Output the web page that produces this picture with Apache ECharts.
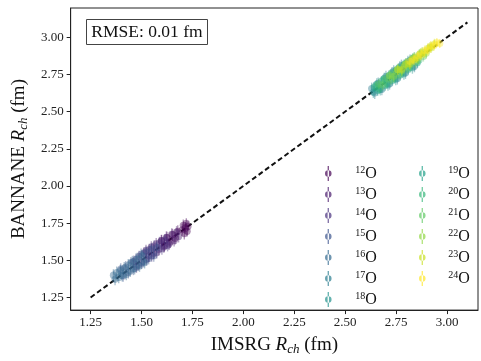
<!DOCTYPE html>
<html>
<head>
<meta charset="utf-8">
<script src="https://cdn.jsdelivr.net/npm/echarts@6/dist/echarts.min.js"></script>
<style>html,body{margin:0;padding:0;background:#fff}#c{width:481px;height:361px}</style>
</head>
<body>
<div id="c"></div>
<script>
// ---- data: [IMSRG Rch, BANNANE Rch, error] ----
const isotopes = ['12O','13O','14O','15O','16O','17O','18O','19O','20O','21O','22O','23O','24O'];
const colors = ['#440154','#481a6c','#472f7d','#3b528b','#31688e','#287c8e','#21918c','#1fa088','#35b779','#5ec962','#90d743','#c8e020','#fde725'];
const o12 = [[1.598,1.630,0.04],[1.612,1.598,0.04],[1.625,1.652,0.04],[1.640,1.622,0.04],[1.652,1.672,0.04],[1.665,1.648,0.04],[1.678,1.695,0.04],[1.700,1.705,0.04],[1.705,1.735,0.04],[1.710,1.680,0.04],[1.716,1.718,0.04],[1.720,1.748,0.035],[1.724,1.695,0.035],[1.728,1.728,0.035]];
const o13 = [[1.522,1.565,0.04],[1.535,1.530,0.04],[1.548,1.588,0.04],[1.560,1.548,0.04],[1.572,1.610,0.04],[1.585,1.572,0.04],[1.598,1.632,0.04],[1.610,1.590,0.04],[1.622,1.655,0.04],[1.635,1.610,0.04],[1.648,1.675,0.04],[1.660,1.632,0.04],[1.672,1.690,0.04],[1.682,1.660,0.04]];
const o14 = [[1.462,1.492,0.04],[1.475,1.455,0.04],[1.488,1.525,0.04],[1.500,1.482,0.04],[1.512,1.548,0.04],[1.525,1.505,0.04],[1.538,1.572,0.04],[1.550,1.530,0.04],[1.562,1.595,0.04],[1.575,1.552,0.04],[1.588,1.618,0.04],[1.600,1.578,0.04],[1.615,1.635,0.04],[1.628,1.600,0.04]];
const o15 = [[1.398,1.440,0.04],[1.410,1.395,0.04],[1.422,1.455,0.04],[1.435,1.418,0.04],[1.448,1.482,0.04],[1.460,1.440,0.04],[1.472,1.505,0.04],[1.485,1.468,0.04],[1.498,1.540,0.04],[1.510,1.492,0.04],[1.522,1.555,0.04],[1.535,1.512,0.04],[1.548,1.575,0.04],[1.560,1.530,0.04],[1.575,1.585,0.04]];
const o16 = [[1.362,1.400,0.04],[1.370,1.372,0.04],[1.378,1.418,0.04],[1.388,1.385,0.04],[1.396,1.430,0.04],[1.405,1.398,0.04],[1.415,1.448,0.04],[1.425,1.405,0.04],[1.435,1.468,0.04],[1.445,1.428,0.04],[1.455,1.490,0.04],[1.466,1.445,0.04],[1.478,1.510,0.04],[1.490,1.462,0.04],[1.502,1.530,0.04],[1.515,1.485,0.04]];
const o17 = [[2.630,2.655,0.04],[2.645,2.625,0.04],[2.662,2.690,0.04],[2.680,2.650,0.04],[2.700,2.735,0.04],[2.718,2.688,0.04],[2.738,2.772,0.04],[2.756,2.722,0.04],[2.776,2.810,0.04],[2.796,2.760,0.04],[2.818,2.845,0.04],[2.840,2.805,0.04]];
const o18 = [[2.638,2.632,0.04],[2.655,2.685,0.04],[2.672,2.648,0.04],[2.692,2.722,0.04],[2.710,2.680,0.04],[2.730,2.760,0.04],[2.748,2.718,0.04],[2.768,2.798,0.04],[2.788,2.755,0.04],[2.808,2.835,0.04],[2.830,2.795,0.04]];
const o19 = [[2.642,2.665,0.035],[2.660,2.642,0.035],[2.678,2.705,0.035],[2.696,2.675,0.035],[2.714,2.742,0.035],[2.732,2.710,0.035],[2.752,2.780,0.035],[2.770,2.745,0.035],[2.790,2.818,0.035],[2.810,2.785,0.035],[2.832,2.858,0.035],[2.855,2.830,0.035]];
const o20 = [[2.650,2.672,0.035],[2.668,2.655,0.035],[2.686,2.712,0.035],[2.704,2.690,0.035],[2.722,2.748,0.035],[2.742,2.725,0.035],[2.760,2.788,0.035],[2.778,2.762,0.035],[2.798,2.825,0.035],[2.818,2.800,0.035],[2.840,2.865,0.035],[2.862,2.845,0.035]];
const o21 = [[2.665,2.685,0.035],[2.684,2.680,0.035],[2.704,2.725,0.035],[2.724,2.715,0.035],[2.744,2.768,0.035],[2.764,2.752,0.035],[2.784,2.808,0.035],[2.804,2.792,0.035],[2.824,2.848,0.035],[2.844,2.832,0.035],[2.864,2.885,0.035],[2.884,2.872,0.035]];
const o22 = [[2.718,2.742,0.035],[2.738,2.738,0.035],[2.758,2.782,0.035],[2.778,2.775,0.035],[2.798,2.822,0.035],[2.818,2.815,0.035],[2.838,2.862,0.035],[2.858,2.855,0.035],[2.878,2.900,0.035],[2.898,2.892,0.035],[2.916,2.932,0.035]];
const o23 = [[2.758,2.782,0.035],[2.778,2.785,0.035],[2.798,2.818,0.035],[2.816,2.822,0.035],[2.834,2.855,0.035],[2.852,2.860,0.035],[2.870,2.892,0.035],[2.888,2.895,0.035],[2.906,2.925,0.035],[2.922,2.930,0.035],[2.938,2.955,0.035]];
const o24 = [[2.818,2.838,0.035],[2.838,2.848,0.035],[2.856,2.875,0.035],[2.873,2.882,0.035],[2.890,2.910,0.035],[2.906,2.915,0.035],[2.920,2.940,0.035],[2.936,2.945,0.035],[2.950,2.965,0.03],[2.964,2.958,0.03]];
const seriesData = [o12,o13,o14,o15,o16,o17,o18,o19,o20,o21,o22,o23,o24];
const identityLine = [[1.25,1.25],[3.10,3.10]];
const xTicks = [1.25,1.50,1.75,2.00,2.25,2.50,2.75,3.00];
const yTicks = [1.25,1.50,1.75,2.00,2.25,2.50,2.75,3.00];
const rmseText = 'RMSE: 0.01 fm';

// ---- chart ----
const FONT = 'Liberation Serif';
function rgba(hex, a){
  const n = parseInt(hex.slice(1),16);
  return 'rgba(' + ((n>>16)&255) + ',' + ((n>>8)&255) + ',' + (n&255) + ',' + a + ')';
}
const chart = echarts.init(document.getElementById('c'), null, {renderer:'canvas'});
const series = [{
  type:'line', data: identityLine, symbol:'none', silent:true, z:1,
  lineStyle:{color:'#111', width:2, type:[5,3]}
}];
isotopes.forEach((name, i) => {
  const col = colors[i];
  series.push({
    type:'custom', name: name, data: seriesData[i], z:2,
    itemStyle:{color: rgba(col,0.7)},
    renderItem: function(params, api){
      const x = api.value(0), y = api.value(1), e = api.value(2);
      const p = api.coord([x,y]);
      const lo = api.coord([x,y-e]);
      const hi = api.coord([x,y+e]);
      return {type:'group', children:[
        {type:'line', shape:{x1:p[0],y1:lo[1],x2:p[0],y2:hi[1]}, style:{stroke:rgba(col,0.4), lineWidth:1.4}},
        {type:'circle', shape:{cx:p[0],cy:p[1],r:3.6}, style:{fill:rgba(col,0.42)}}
      ]};
    }
  });
});
const legendIcon = 'path://M3.3,0h1.4v16h-1.4z M0.5,8a3.5,3.5 0 1,0 7,0a3.5,3.5 0 1,0 -7,0z';
const legendText = {
  fontFamily: FONT, color:'#111', fontSize:16,
  rich:{
    sup:{fontFamily:FONT, fontSize:10, lineHeight:9, verticalAlign:'top', color:'#111'},
    o:{fontFamily:FONT, fontSize:16, lineHeight:17, color:'#111'}
  }
};
const legendFmt = n => '{sup|' + n.slice(0,2) + '}{o|O}';
const axisNameStyle = {
  fontFamily:FONT, fontSize:19, color:'#111', lineHeight:22,
  rich:{
    n:{fontFamily:FONT, fontSize:19, lineHeight:22, color:'#111'},
    it:{fontFamily:FONT, fontSize:19, fontStyle:'italic', lineHeight:22, color:'#111'},
    sub:{fontFamily:FONT, fontSize:13, fontStyle:'italic', lineHeight:11, verticalAlign:'bottom', color:'#111'}
  }
};
chart.setOption({
  animation:false,
  backgroundColor:'#fff',
  grid:{left:70, right:3, top:8, bottom:43, show:true, borderColor:'#222', borderWidth:1, backgroundColor:'transparent'},
  xAxis:{
    type:'value', min:1.152, max:3.152,
    name:'{n|IMSRG }{it|R}{sub|ch}{n| (fm)}', nameLocation:'middle', nameGap:20,
    nameTextStyle: axisNameStyle,
    axisLine:{show:true, lineStyle:{color:'#222', width:1}},
    axisTick:{show:true, inside:false, length:4, customValues:xTicks, lineStyle:{color:'#222'}},
    axisLabel:{customValues:xTicks, formatter:v=>v.toFixed(2), fontFamily:FONT, fontSize:13, color:'#222', margin:6},
    splitLine:{show:false}
  },
  yAxis:{
    type:'value', min:1.165, max:3.197,
    name:'{n|BANNANE }{it|R}{sub|ch}{n| (fm)}', nameLocation:'middle', nameGap:38,
    nameTextStyle: axisNameStyle,
    axisLine:{show:true, lineStyle:{color:'#222', width:1}},
    axisTick:{show:true, inside:false, length:4, customValues:yTicks, lineStyle:{color:'#222'}},
    axisLabel:{customValues:yTicks, formatter:v=>v.toFixed(2), fontFamily:FONT, fontSize:13, color:'#222', margin:7},
    splitLine:{show:false}
  },
  legend:[
    {data:isotopes.slice(0,7), orient:'vertical', left:320, top:160, icon:legendIcon, itemWidth:44, itemHeight:15, itemGap:4.5,
     formatter:legendFmt, textStyle:legendText, selectedMode:false},
    {data:isotopes.slice(7), orient:'vertical', left:414, top:160, icon:legendIcon, itemWidth:42, itemHeight:15, itemGap:4.5,
     formatter:legendFmt, textStyle:legendText, selectedMode:false}
  ],
  graphic:[{
    type:'group', left:86, top:19, children:[
      {type:'rect', shape:{x:0,y:0,width:121,height:25}, style:{fill:'#fff', stroke:'#444', lineWidth:1}},
      {type:'text', x:60.5, y:12.5, style:{text:rmseText, fontFamily:FONT, fontSize:17.5, fill:'#111', align:'center', verticalAlign:'middle'}}
    ]
  }],
  series: series
});
</script>
</body>
</html>
